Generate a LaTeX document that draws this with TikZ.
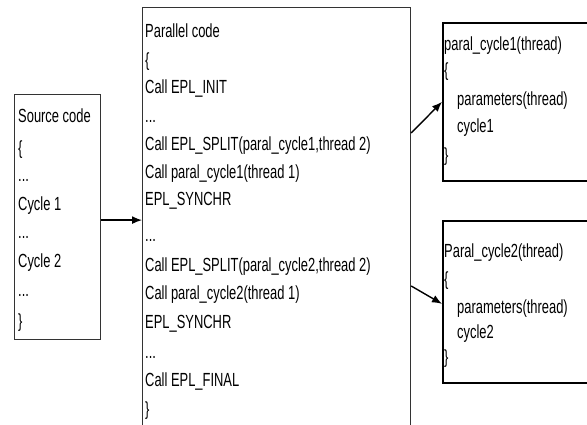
\documentclass[tikz,border=0pt]{standalone}
\usepackage{fontspec}
\setmainfont[FakeStretch=0.68]{Liberation Sans}
\usetikzlibrary{arrows.meta}

\begin{document}
\begin{tikzpicture}[x=1pt,y=-1pt,
  thinbox/.style={draw=black!80, line width=1.2pt, inner sep=0pt, anchor=north west},
  boldbox/.style={draw=black, line width=1.7pt, inner sep=0pt, anchor=north west},
  codeline/.style={anchor=base west, inner sep=0pt, text=black,
    font=\fontsize{19}{22}\selectfont},
  flow/.style={-{Latex[length=10pt,width=8pt]}, line width=1.4pt, black}]

\useasboundingbox (0,0) rectangle (587,425);
\clip (0,0) rectangle (587,425);

% frames
\node[thinbox, minimum width=86pt, minimum height=245pt] (src) at (14,94) {};
\node[thinbox, minimum width=268pt, minimum height=440pt] (par) at (142,7) {};
\node[boldbox, minimum width=170pt, minimum height=158pt] (pc1) at (442,22) {};
\node[boldbox, minimum width=170pt, minimum height=162pt] (pc2) at (442,220) {};

% source code
\foreach \t/\y [count=\i] in {{Source code}/123, {\{}/155, {...}/182, {Cycle 1}/211,
    {...}/239, {Cycle 2}/268, {...}/296, {\}}/327}
  \node[codeline] (s\i) at (18,\y) {\t};

% parallel code
\foreach \t/\y [count=\i] in {{Parallel code}/38, {\{}/67, {Call EPL\_INIT}/94,
    {...}/123, {Call EPL\_SPLIT(paral\_cycle1,thread 2)}/151,
    {Call paral\_cycle1(thread 1)}/179, {EPL\_SYNCHR}/206, {...}/241,
    {Call EPL\_SPLIT(paral\_cycle2,thread 2)}/271,
    {Call paral\_cycle2(thread 1)}/299, {EPL\_SYNCHR}/328, {...}/358,
    {Call EPL\_FINAL}/386, {\}}/415}
  \node[codeline] (p\i) at (145,\y) {\t};

% first parallel routine
\foreach \t/\x/\y [count=\i] in {{paral\_cycle1(thread)}/444/51, {\{}/444/77,
    {parameters(thread)}/457/106, {cycle1}/457/133, {\}}/444/162}
  \node[codeline] (a\i) at (\x,\y) {\t};

% second parallel routine
\foreach \t/\x/\y [count=\i] in {{Paral\_cycle2(thread)}/444/258, {\{}/444/285,
    {parameters(thread)}/457/313, {cycle2}/457/338, {\}}/444/363}
  \node[codeline] (b\i) at (\x,\y) {\t};

% connectors
\draw[flow] ([yshift=-3pt]src.east) -- ([yshift=-3pt]src.east -| par.west);
\draw[flow] ([yshift=-126pt]par.north east) -- (pc1.west);
\draw[flow] ([yshift=-279pt]par.north east) -- ([yshift=-2pt]pc2.west);
\end{tikzpicture}
\end{document}
